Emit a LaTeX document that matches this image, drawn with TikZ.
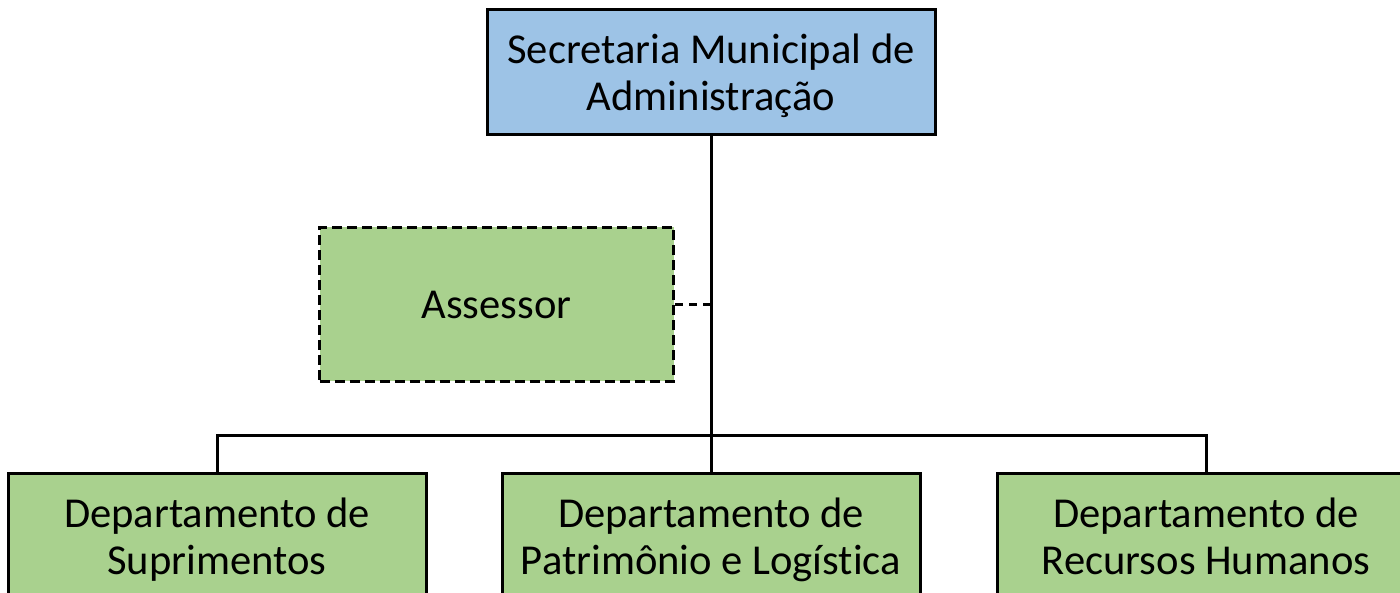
\documentclass[tikz,border=0pt]{standalone}
\usepackage{fontspec}
\setmainfont[Ligatures=NoCommon]{Carlito}
\definecolor{boxblue}{HTML}{9DC3E6}
\definecolor{boxgreen}{HTML}{A9D18E}
\newcommand\lnstrut{\vphantom{Ápg}}
\begin{document}
\begin{tikzpicture}[x=1pt,y=-1pt,
  orgbox/.style={draw=black, line width=3pt, inner sep=0pt, align=center,
    font=\fontsize{42.6}{47}\selectfont, minimum height=125pt},
  link/.style={draw=black, line width=3pt},
  dlink/.style={draw=black, line width=3pt, dash pattern=on 8pt off 6pt}]
\useasboundingbox (0,0) rectangle (1400,593);
\clip (0,0) rectangle (1400,593);
\node[orgbox, fill=boxblue, minimum width=448pt] (top) at (711,72.5)
  {\lnstrut Secretaria Municipal de\\\lnstrut Administração};
\node[orgbox, fill=boxgreen, minimum width=354pt, minimum height=154pt,
  dash pattern=on 10pt off 5pt] (ass) at (496.5,304.5) {\lnstrut Assessor};
\node[orgbox, fill=boxgreen, minimum width=418pt, minimum height=128pt] (left) at (217,537)
  {\lnstrut Departamento de\\\lnstrut Suprimentos};
\node[orgbox, fill=boxgreen, minimum width=418pt, minimum height=128pt] (mid) at (711,537)
  {\lnstrut Departamento de\\\lnstrut Patrimônio e Logística};
\node[orgbox, fill=boxgreen, minimum width=418pt, minimum height=128pt] (right) at (1206,537)
  {\lnstrut Departamento de\\\lnstrut Recursos Humanos};
\coordinate (bus) at (711,435);
\draw[link] (top.south) -- (mid.north);
\draw[link] (left.north) |- (bus) -| (right.north);
\draw[dlink] (ass.east) -- (ass.east -| top.south);
\end{tikzpicture}
\end{document}
